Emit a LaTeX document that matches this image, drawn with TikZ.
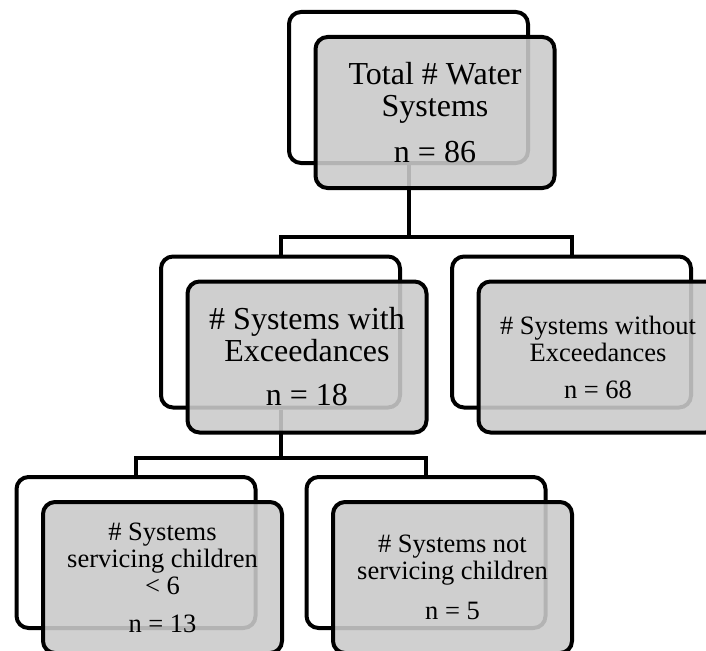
\documentclass[tikz,border=0pt]{standalone}
\usepackage{fontspec}
\setmainfont{Liberation Serif}
\usetikzlibrary{positioning}
\definecolor{Shade}{HTML}{CACACA}
\colorlet{boxline}{black}
\colorlet{boxfill}{Shade}

\begin{document}
\begin{tikzpicture}[x=1pt,y=-1pt,
 backbox/.style={draw=boxline,line width=4pt,rounded corners=12pt,fill=white,
   minimum width=239pt,minimum height=151pt,inner sep=0pt},
 frontbox/.style={backbox,fill=boxfill,fill opacity=0.89,text opacity=1,
   align=center,xshift=26.5pt,yshift=-25pt},
 big/.style={font=\fontsize{32}{32}\selectfont},
 small/.style={font=\fontsize{26.5}{27}\selectfont},
 link/.style={draw=boxline,line width=4pt}]
 \clip (0,0) rectangle (706,650);
 % back layer
 \node[backbox] (totalB) at (408.5,87.5) {};
 \node[backbox] (withB) at (280.5,332) {};
 \node[backbox] (withoutB) at (571.5,332) {};
 \node[backbox] (kidsB) at (136,552.5) {};
 \node[backbox] (nokidsB) at (426,552.5) {};
 % connectors
 \draw[link] (totalB.south) -- ++(0,72) -| (withB.north);
 \draw[link] (totalB.south) -- ++(0,72) -| (withoutB.north);
 \draw[link] (withB.south) -- ++(0,48) -| (kidsB.north);
 \draw[link] (withB.south) -- ++(0,48) -| (nokidsB.north);
 % front layer
 \node[frontbox,big] (total) at (totalB) {Total \# Water\\Systems\\[14pt]n = 86};
 \node[frontbox,big] (with) at (withB) {\# Systems with\\Exceedances\\[12pt]n = 18};
 \node[frontbox,small] (without) at (withoutB) {\# Systems without\\Exceedances\\[10pt]n = 68};
 \node[frontbox,small] (kids) at (kidsB) {\# Systems\\servicing children\\< 6\\[11pt]n = 13};
 \node[frontbox,small] (nokids) at (nokidsB) {\# Systems not\\servicing children\\[13pt]n = 5};
\end{tikzpicture}
\end{document}
